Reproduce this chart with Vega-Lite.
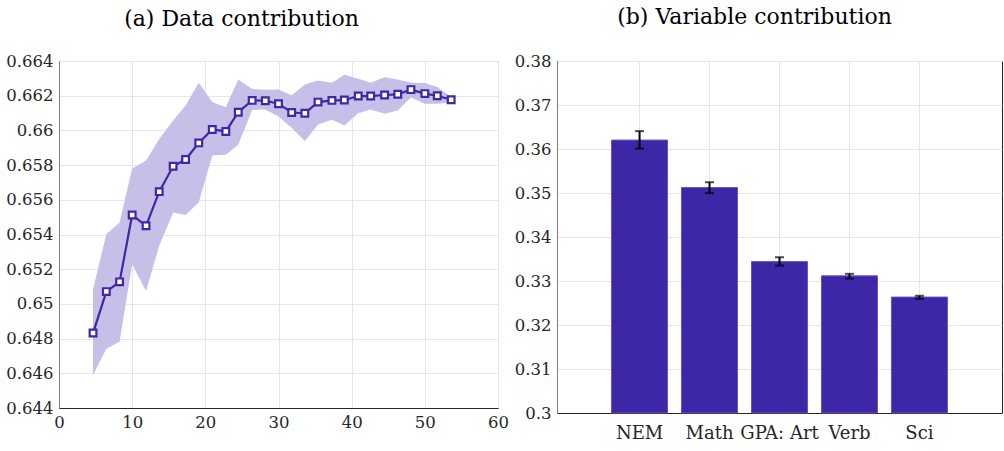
{
  "$schema": "https://vega.github.io/schema/vega-lite/v6.json",
  "padding": {"left": 5, "top": 5, "right": 0, "bottom": 5},
  "background": "#ffffff",
  "spacing": 4,
  "config": {
    "view": {"stroke": "#262626", "strokeWidth": 1},
    "axis": {
      "labelFont": "DejaVu Serif", "labelFontSize": 16.5, "labelColor": "#262626",
      "gridColor": "#e6e6e6", "gridWidth": 1, "domainColor": "#262626", "tickColor": "#262626",
      "ticks": false, "labelPadding": 6, "title": null, "labelFlush": false, "labelOverlap": false
    },
    "title": {"font": "DejaVu Serif", "fontSize": 22, "fontWeight": "normal", "color": "#000000"}
  },
  "datasets": {
    "curve": [
      {"x": 4.65, "m": 0.64832, "lo": 0.64589, "hi": 0.65084},
      {"x": 6.47, "m": 0.65071, "lo": 0.64741, "hi": 0.65402},
      {"x": 8.28, "m": 0.65127, "lo": 0.64782, "hi": 0.65469},
      {"x": 10.0, "m": 0.65512, "lo": 0.65229, "hi": 0.65781},
      {"x": 11.9, "m": 0.65450, "lo": 0.65075, "hi": 0.65826},
      {"x": 13.7, "m": 0.65647, "lo": 0.65335, "hi": 0.65951},
      {"x": 15.6, "m": 0.65793, "lo": 0.65527, "hi": 0.66057},
      {"x": 17.3, "m": 0.65832, "lo": 0.65512, "hi": 0.66144},
      {"x": 19.1, "m": 0.65928, "lo": 0.65585, "hi": 0.66275},
      {"x": 20.95, "m": 0.66005, "lo": 0.65855, "hi": 0.66163},
      {"x": 22.8, "m": 0.65994, "lo": 0.65859, "hi": 0.66134},
      {"x": 24.5, "m": 0.66105, "lo": 0.65917, "hi": 0.66294},
      {"x": 26.4, "m": 0.66173, "lo": 0.66118, "hi": 0.66238},
      {"x": 28.2, "m": 0.66171, "lo": 0.66121, "hi": 0.66235},
      {"x": 30.0, "m": 0.66154, "lo": 0.66080, "hi": 0.66236},
      {"x": 31.8, "m": 0.66103, "lo": 0.66015, "hi": 0.66202},
      {"x": 33.6, "m": 0.66099, "lo": 0.65938, "hi": 0.66265},
      {"x": 35.4, "m": 0.66163, "lo": 0.66034, "hi": 0.66288},
      {"x": 37.3, "m": 0.66173, "lo": 0.66061, "hi": 0.66275},
      {"x": 39.0, "m": 0.66175, "lo": 0.66028, "hi": 0.66321},
      {"x": 40.9, "m": 0.66198, "lo": 0.66099, "hi": 0.66298},
      {"x": 42.6, "m": 0.66198, "lo": 0.66121, "hi": 0.66275},
      {"x": 44.5, "m": 0.66204, "lo": 0.66096, "hi": 0.66307},
      {"x": 46.3, "m": 0.66208, "lo": 0.66115, "hi": 0.66294},
      {"x": 48.1, "m": 0.66235, "lo": 0.66189, "hi": 0.66275},
      {"x": 50.0, "m": 0.66212, "lo": 0.66154, "hi": 0.66273},
      {"x": 51.7, "m": 0.66200, "lo": 0.66154, "hi": 0.66250},
      {"x": 53.6, "m": 0.66177, "lo": 0.66161, "hi": 0.66192}
    ],
    "bars": [
      {"cat": "NEM", "v": 0.36203, "lo": 0.36008, "hi": 0.36406},
      {"cat": "Math", "v": 0.35125, "lo": 0.34996, "hi": 0.35245},
      {"cat": "GPA: Art", "v": 0.33441, "lo": 0.33350, "hi": 0.33540},
      {"cat": "Verb", "v": 0.33117, "lo": 0.33056, "hi": 0.33163},
      {"cat": "Sci", "v": 0.32635, "lo": 0.32596, "hi": 0.32664}
    ]
  },
  "hconcat": [
    {
      "width": 439,
      "height": 347,
      "title": {"text": "(a) Data contribution", "dx": -37, "offset": 22},
      "data": {"name": "curve"},
      "encoding": {
        "x": {"field": "x", "type": "quantitative",
              "scale": {"domain": [0, 60], "nice": false},
              "axis": {"values": [0, 10, 20, 30, 40, 50, 60], "tickCount": 20, "grid": true, "labelFlush": false}}
      },
      "layer": [
        {
          "mark": {"type": "area", "color": "#c6bfe7", "opacity": 1},
          "encoding": {
            "y": {"field": "lo", "type": "quantitative",
                  "scale": {"domain": [0.644, 0.664], "nice": false, "zero": false},
                  "axis": {"values": [0.644, 0.646, 0.648, 0.65, 0.652, 0.654, 0.656, 0.658, 0.66, 0.662, 0.664],
                           "tickCount": 20,
                           "format": ".3~f", "grid": true, "labelOverlap": false, "labelFlush": false, "domainColor": "#7f7f7f"}},
            "y2": {"field": "hi"}
          }
        },
        {
          "mark": {"type": "line", "color": "#3f27a8", "strokeWidth": 2.2},
          "encoding": {"y": {"field": "m", "type": "quantitative"}}
        },
        {
          "mark": {"type": "point", "shape": "square", "filled": true, "fill": "#ffffff",
                   "stroke": "#3f27a8", "strokeWidth": 2.2, "size": 45, "opacity": 1},
          "encoding": {"y": {"field": "m", "type": "quantitative"}}
        }
      ]
    },
    {
      "width": 445,
      "height": 352,
      "title": {"text": "(b) Variable contribution", "dx": -25, "offset": 24},
      "data": {"name": "bars"},
      "encoding": {
        "x": {"field": "cat", "type": "nominal", "sort": null,
              "scale": {"paddingInner": 0.2, "paddingOuter": 0.78},
              "axis": {"labelAngle": 0, "grid": true, "labelFontSize": 18, "labelPadding": 11, "labelOverlap": false}}
      },
      "layer": [
        {
          "mark": {"type": "bar", "color": "#3d27a7", "stroke": "#6553c9", "strokeWidth": 1},
          "encoding": {
            "y": {"field": "v", "type": "quantitative",
                  "scale": {"domain": [0.3, 0.38], "nice": false, "zero": false},
                  "axis": {"values": [0.3, 0.31, 0.32, 0.33, 0.34, 0.35, 0.36, 0.37, 0.38],
                           "tickCount": 20,
                           "format": ".2~f", "grid": true, "labelOverlap": false, "labelFlush": false, "domainColor": "#7f7f7f"}},
            "y2": {"datum": 0.3}
          }
        },
        {
          "mark": {"type": "rule", "color": "#000000", "strokeWidth": 2},
          "encoding": {"y": {"field": "lo", "type": "quantitative"}, "y2": {"field": "hi"}}
        },
        {
          "mark": {"type": "tick", "color": "#000000", "thickness": 2, "size": 9},
          "encoding": {"y": {"field": "lo", "type": "quantitative"}}
        },
        {
          "mark": {"type": "tick", "color": "#000000", "thickness": 2, "size": 9},
          "encoding": {"y": {"field": "hi", "type": "quantitative"}}
        }
      ]
    }
  ]
}
